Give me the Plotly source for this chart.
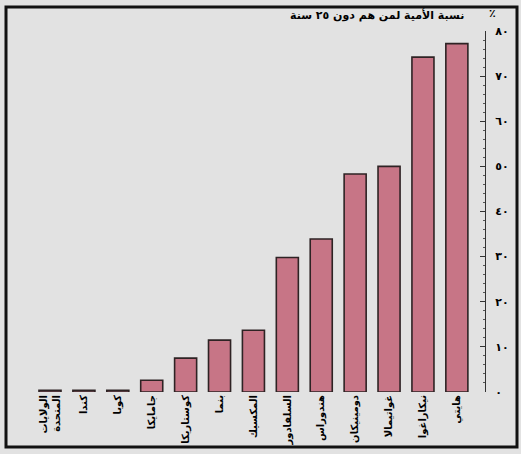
import plotly.graph_objects as go

# الدول من اليسار إلى اليمين
paises = ["الولايات<br>المتحدة", "كندا", "كوبا", "جامايكا", "كوستاريكا", "بنما", "المكسيك",
          "السلفادور", "هندوراس", "دومينيكان", "غواتيمالا", "نيكاراغوا", "هايتي"]
# نسبة الأمية (٪) - مقروءة من الرسم
nisba = [0.4, 0.4, 0.4, 2.6, 7.5, 11.5, 13.7, 29.8, 33.9, 48.3, 50.0, 74.2, 77.2]

tick_vals = [0, 10, 20, 30, 40, 50, 60, 70, 80]
tick_text = ["٠", "١٠", "٢٠", "٣٠", "٤٠", "٥٠", "٦٠", "٧٠", "٨٠"]

FONT = "DejaVu Sans"
BG = "#e2e2e2"

fig = go.Figure(go.Bar(
    x=list(range(len(paises))),
    y=nisba,
    marker=dict(color="#c77586", line=dict(color="#2e2324", width=1.6)),
))

fig.update_layout(
    width=521, height=454,
    margin=dict(l=30, r=36, t=31, b=62),
    paper_bgcolor=BG, plot_bgcolor=BG,
    bargap=0.35,
    showlegend=False,
    font=dict(family=FONT, color="black"),
    xaxis=dict(
        range=[-0.59, 12.83], automargin=False,
        tickmode="array", tickvals=list(range(len(paises))),
        ticktext=["<b>" + p.replace("<br>", "</b><br><b>") + "</b>" for p in paises],
        tickangle=-90, tickfont=dict(size=10, family=FONT, color="black"),
        showgrid=False, zeroline=False, showline=False, ticks="",
    ),
    yaxis=dict(
        side="right", range=[0, 80], automargin=False,
        tickmode="array", tickvals=tick_vals,
        ticktext=["<b>" + t + "</b>" for t in tick_text],
        tickfont=dict(size=11, family=FONT, color="black"),
        ticklabelstandoff=7,
        showgrid=False, zeroline=False,
        showline=True, linecolor="#333", linewidth=1.3,
        ticks="inside", ticklen=5, tickcolor="#333",
        minor=dict(ticks="inside", ticklen=2, dtick=2, tickcolor="#555"),
    ),
)

# العنوان
fig.add_annotation(text="<b>نسبة الأمية لمن هم دون ٢٥ سنة</b>", xref="paper", yref="paper",
                   x=(466 - 30) / 455, y=(392 - 15) / 361, xanchor="right", yanchor="middle",
                   showarrow=False, font=dict(size=11, family=FONT, color="black"))
fig.add_annotation(text="<b>٪</b>", xref="paper", yref="paper",
                   x=(492 - 30) / 455, y=(392 - 13) / 361, xanchor="center", yanchor="middle",
                   showarrow=False, font=dict(size=11, family=FONT, color="black"))

# الإطار
fig.add_shape(type="rect", xref="paper", yref="paper",
              x0=(6 - 30) / 455, x1=(517 - 30) / 455,
              y0=(392 - 447) / 361, y1=(392 - 7) / 361,
              line=dict(color="#111", width=3), fillcolor="rgba(0,0,0,0)", layer="above")

fig.write_html("out.html", config={"displayModeBar": False},
               post_script="document.body.style.margin='0';")
